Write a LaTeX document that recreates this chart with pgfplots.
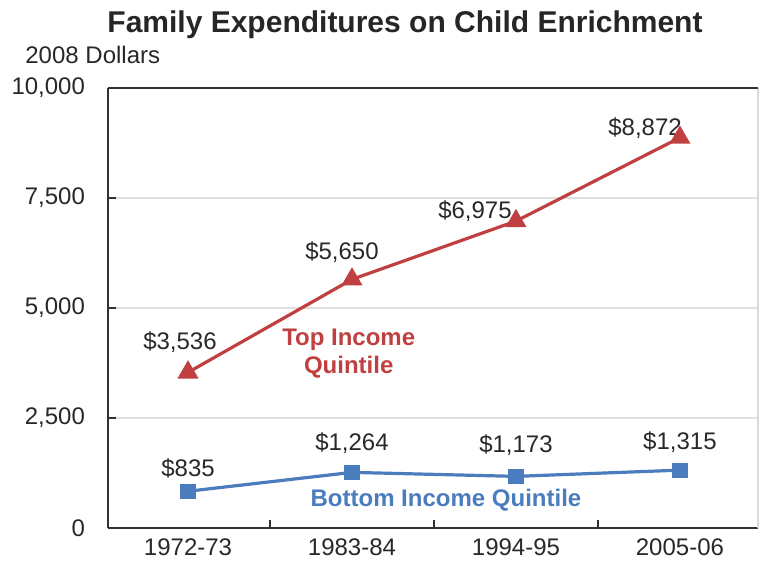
\documentclass[border=0pt]{standalone}
\usepackage{pgfplots}
\pgfplotsset{compat=1.18}
\usepackage{fontspec}
\setmainfont{Liberation Sans}
\definecolor{topred}{RGB}{192,64,66}
\definecolor{botblue}{RGB}{74,124,190}
\definecolor{txt}{RGB}{40,40,40}
\begin{document}
\begin{tikzpicture}
\path[use as bounding box] (-54pt,-19pt) rectangle (326.5pt,264pt);
\begin{axis}[
  at={(0,0)}, anchor=south west,
  scale only axis, width=325pt, height=220pt,
  xmin=-0.488, xmax=3.476, ymin=0, ymax=10000,
  axis lines=left, axis line style={-, black!80, line width=1pt},
  xtick={0,1,2,3}, xticklabels={1972-73,1983-84,1994-95,2005-06},
  minor xtick={0.5,1.5,2.5},
  major x tick style={draw=none},
  minor x tick style={black!80, line width=0.8pt},
  minor tick length=4pt,
  ytick={0,2500,5000,7500,10000},
  scaled y ticks=false,
  /pgf/number format/fixed,
  /pgf/number format/precision=0,
  /pgf/number format/1000 sep={,},
  /pgf/number format/assume math mode=true,
  major y tick style={black!80, line width=0.8pt},
  major tick length=4pt,
  tick align=inside,
  ymajorgrids, grid style={black!12, line width=0.6pt},
  ticklabel style={font=\fontsize{12}{14}\selectfont, text=txt},
  yticklabel style={xshift=-8pt},
  xticklabel style={yshift=-2pt},
  clip=false,
]
\draw[black!15, line width=0.8pt] (rel axis cs:1,0) -- (rel axis cs:1,1);
\draw[black!80, line width=1pt] (rel axis cs:0,1) -- (rel axis cs:1,1);
\addplot[topred, line width=1.6pt, mark=triangle*, mark size=4.5pt, mark options={solid}]
  coordinates {(0,3536) (1,5650) (2,6975) (3,8872)};
\addplot[botblue, line width=1.6pt, mark=square*, mark size=3pt]
  coordinates {(0,835) (1,1264) (2,1173) (3,1315)};
\begin{scope}[every node/.style={font=\fontsize{12}{14}\selectfont, text=txt}]
\node at (axis cs:-0.049,4227) {\$3,536};
\node at (axis cs:0.939,6273) {\$5,650};
\node at (axis cs:1.75,7205) {\$6,975};
\node at (axis cs:2.787,9091) {\$8,872};
\node at (axis cs:0,1364) {\$835};
\node at (axis cs:1,1932) {\$1,264};
\node at (axis cs:2,1886) {\$1,173};
\node at (axis cs:3,1955) {\$1,315};
\end{scope}
\node[font=\bfseries\fontsize{12}{14}\selectfont, text=topred, align=center] at (axis cs:0.98,3955) {Top Income\\Quintile};
\node[font=\bfseries\fontsize{12}{14}\selectfont, text=botblue] at (axis cs:1.573,636) {Bottom Income Quintile};
\end{axis}
\node[font=\bfseries\fontsize{15}{18}\selectfont, text=black!85] at (148.5pt,251.5pt) {Family Expenditures on Child Enrichment};
\node[font=\fontsize{12}{14}\selectfont, text=txt, anchor=west, inner sep=0pt] at (-41.5pt,236.5pt) {2008 Dollars};
\end{tikzpicture}
\end{document}
